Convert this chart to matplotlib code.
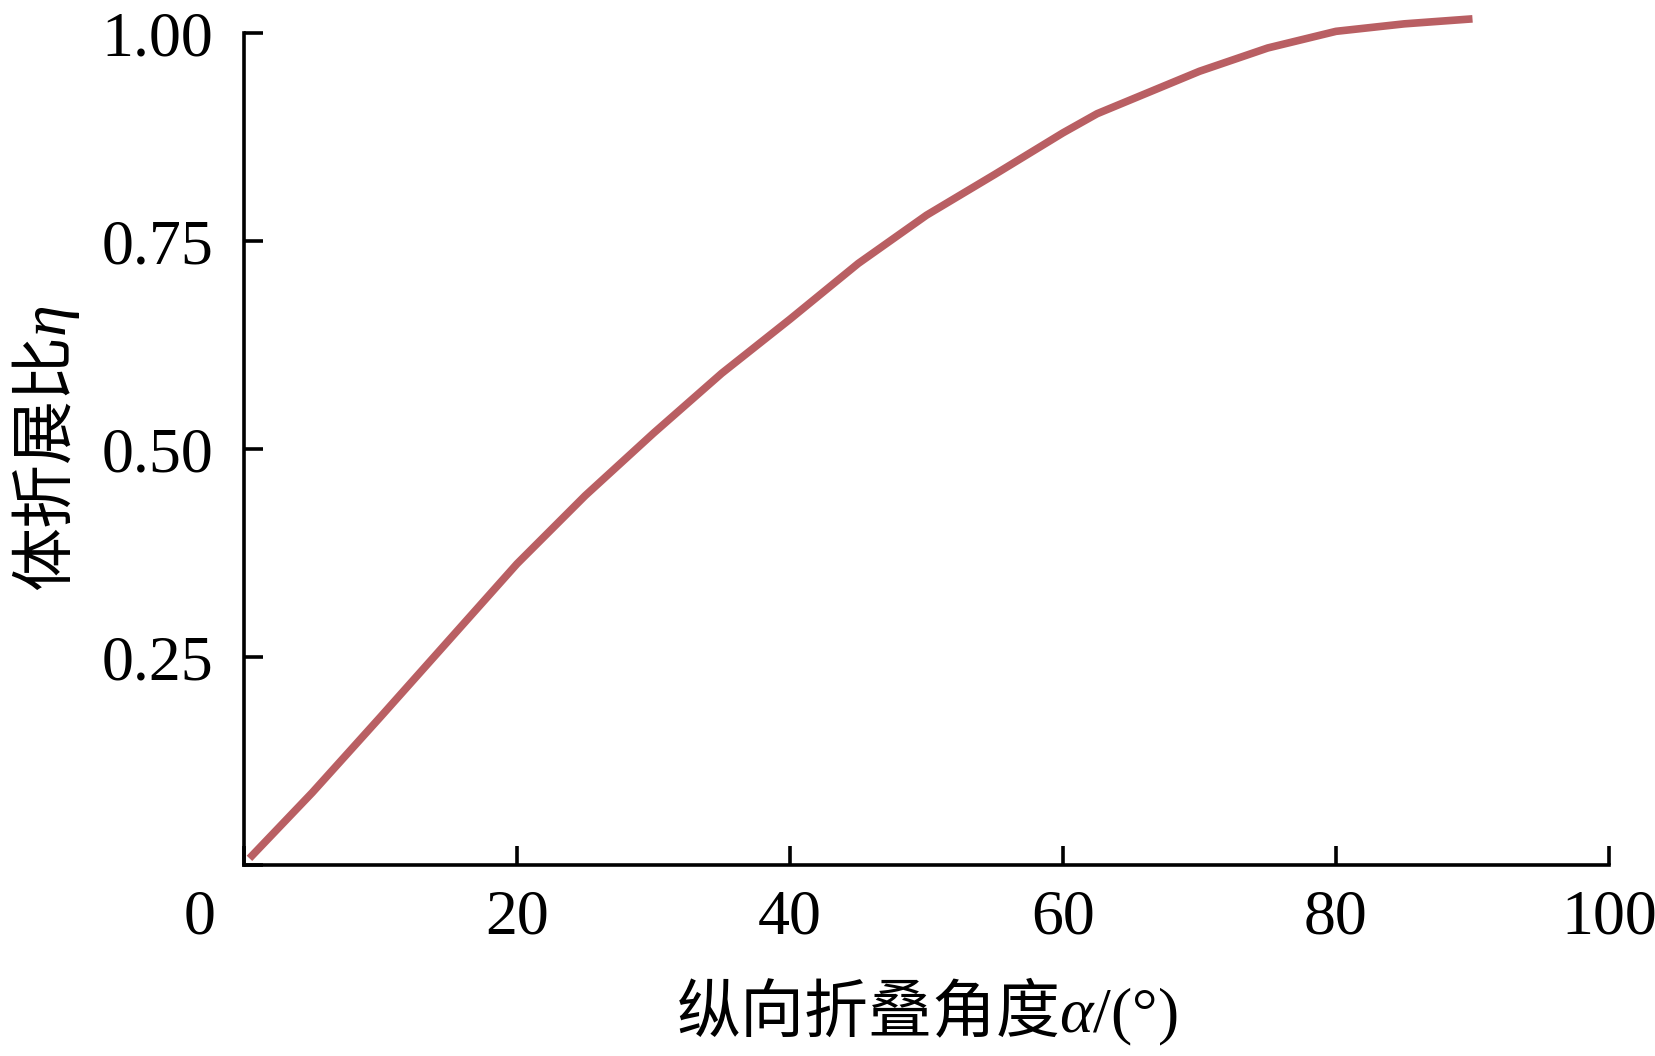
import matplotlib
matplotlib.use("Agg")
import matplotlib.pyplot as plt
import matplotlib.transforms as mtransforms

# Data
alpha_deg = [0.4, 5, 10, 15, 20, 25, 30, 35, 40, 45, 50, 55, 60, 62.5, 65, 70, 75, 80, 85, 90]
eta = [0.008, 0.087, 0.178, 0.270, 0.362, 0.444, 0.519, 0.591, 0.656, 0.723, 0.781,
       0.830, 0.880, 0.903, 0.920, 0.954, 0.982, 1.002, 1.011, 1.017]

x_ticks = [0, 20, 40, 60, 80, 100]
x_ticklabels = ["0", "20", "40", "60", "80", "100"]
y_ticks = [0, 0.25, 0.50, 0.75, 1.00]
y_ticklabels = ["", "0.25", "0.50", "0.75", "1.00"]

plt.rcParams['font.family'] = ['Liberation Serif', 'Noto Sans CJK SC', 'DejaVu Sans']
plt.rcParams['mathtext.fontset'] = 'custom'
plt.rcParams['mathtext.it'] = 'Liberation Serif:italic'
plt.rcParams['mathtext.rm'] = 'Noto Sans CJK SC'
plt.rcParams['mathtext.sf'] = 'Liberation Serif'

fig = plt.figure(figsize=(16.56, 10.56), dpi=100)
ax = fig.add_axes([244/1656, 1 - 865/1056, (1609-244)/1656, (865-33)/1056])

ax.plot(alpha_deg, eta, color='#B95F63', lw=5.5, solid_capstyle='butt',
        solid_joinstyle='round', clip_on=False)

ax.set_xlim(0, 100)
ax.set_ylim(0, 1.0)
for s in ['top', 'right']:
    ax.spines[s].set_visible(False)
for s in ['left', 'bottom']:
    ax.spines[s].set_linewidth(2.6)
    ax.spines[s].set_color('black')

ax.set_xticks(x_ticks)
ax.set_xticklabels(x_ticklabels)
ax.set_yticks(y_ticks)
ax.set_yticklabels(y_ticklabels)
ax.tick_params(axis='both', direction='in', length=14, width=2.6, labelsize=46, colors='black')
ax.tick_params(axis='x', pad=18)
ax.tick_params(axis='y', pad=22)

# shift the origin label "0" to the left like the reference
off = mtransforms.ScaledTranslation(-44/100, 0, fig.dpi_scale_trans)
lbl0 = ax.get_xticklabels()[0]
lbl0.set_transform(lbl0.get_transform() + off)

ax.set_xlabel('纵向折叠角度$\\mathit{\\alpha}\\mathsf{/(°)}$', fontsize=46, labelpad=20,
              fontfamily='Noto Sans CJK SC')
ax.set_ylabel('体折展比$\\mathit{\\eta}$', fontsize=46, labelpad=14,
              fontfamily='Noto Sans CJK SC')

fig.savefig('out.png', dpi=100)
